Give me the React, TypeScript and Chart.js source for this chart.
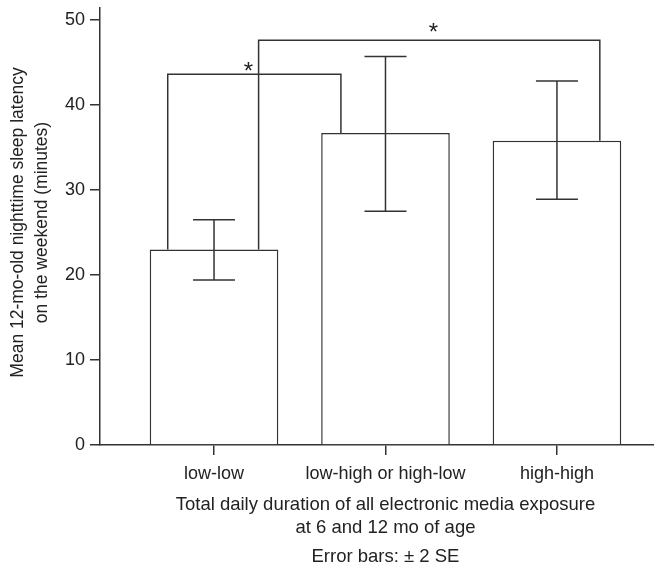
import React, { useEffect, useRef } from 'react';
import { Chart, registerables } from 'chart.js';

Chart.register(...registerables);

// ---- data ----
const categories = ['low-low', 'low-high or high-low', 'high-high'];
const categoryPositions = [1, 2, 3];
const meanLatency = [23.0, 36.7, 35.8];
const errorLow = [19.4, 27.5, 28.9];
const errorHigh = [26.5, 45.7, 42.8];
const yTicks = [0, 10, 20, 30, 40, 50];
const bracketFrom = [0, 0];
const bracketTo = [1, 2];
const bracketLevel = [43.6, 47.6];
const bracketMarks = ['*', '*'];
const yTitle = ['Mean 12-mo-old nighttime sleep latency', 'on the weekend (minutes)'];
const xTitle = ['Total daily duration of all electronic media exposure', 'at 6 and 12 mo of age'];
const note = 'Error bars: \u00b1 2 SE';

// ---- layout / style ----
const FONT = "'Liberation Sans', Arial, Helvetica, sans-serif";
const INK = '#333';
const TEXT = '#222';
const legFromOffset = [-0.27, 0.26];
const legToOffset = [-0.26, 0.25];
const markX = [1.2, 2.28];
const markAbove = [0.85, 1.45];

const overlay = {
  id: 'overlay',
  afterDatasetsDraw(chart: any) {
    const { ctx, scales } = chart;
    const xs = scales.x;
    const ys = scales.y;
    ctx.save();
    ctx.strokeStyle = INK;
    ctx.lineWidth = 1.5;
    // error bars
    categoryPositions.forEach((p, i) => {
      const x = xs.getPixelForValue(p);
      const y1 = ys.getPixelForValue(errorLow[i]);
      const y2 = ys.getPixelForValue(errorHigh[i]);
      ctx.beginPath();
      ctx.moveTo(x, y1);
      ctx.lineTo(x, y2);
      ctx.moveTo(x - 21, y1);
      ctx.lineTo(x + 21, y1);
      ctx.moveTo(x - 21, y2);
      ctx.lineTo(x + 21, y2);
      ctx.stroke();
    });
    // brackets
    bracketLevel.forEach((lvl, b) => {
      const a = bracketFrom[b];
      const c = bracketTo[b];
      const xa = xs.getPixelForValue(categoryPositions[a] + legFromOffset[b]);
      const xc = xs.getPixelForValue(categoryPositions[c] + legToOffset[b]);
      const yt = ys.getPixelForValue(lvl);
      ctx.beginPath();
      ctx.moveTo(xa, ys.getPixelForValue(meanLatency[a]));
      ctx.lineTo(xa, yt);
      ctx.lineTo(xc, yt);
      ctx.lineTo(xc, ys.getPixelForValue(meanLatency[c]));
      ctx.stroke();
      ctx.fillStyle = TEXT;
      ctx.font = `24px ${FONT}`;
      ctx.textAlign = 'center';
      ctx.textBaseline = 'middle';
      ctx.fillText(bracketMarks[b], xs.getPixelForValue(markX[b]), ys.getPixelForValue(lvl + markAbove[b]) + 5);
    });
    ctx.restore();
  },
  afterDraw(chart: any) {
    const { ctx, scales, chartArea } = chart;
    const cx = scales.x.getPixelForValue(categoryPositions[1]);
    ctx.save();
    ctx.fillStyle = TEXT;
    ctx.font = `18.5px ${FONT}`;
    ctx.textAlign = 'center';
    ctx.textBaseline = 'middle';
    ctx.fillText(xTitle[0], cx, chartArea.bottom + 60);
    ctx.fillText(xTitle[1], cx, chartArea.bottom + 83);
    ctx.fillText(note, cx, chartArea.bottom + 112);
    // y-axis title (two lines, rotated)
    ctx.font = `17.5px ${FONT}`;
    const cy = (chartArea.top + chartArea.bottom) / 2 - 4;
    ctx.translate(0, cy);
    ctx.rotate(-Math.PI / 2);
    ctx.fillText(yTitle[0], 0, 18);
    ctx.fillText(yTitle[1], 0, 42);
    ctx.restore();
  },
};

export default function App() {
  const ref = useRef<HTMLCanvasElement>(null);
  useEffect(() => {
    if (!ref.current) return;
    const chart = new Chart(ref.current, {
      type: 'bar',
      data: {
        datasets: [
          {
            data: categoryPositions.map((x, i) => ({ x, y: meanLatency[i] })),
            backgroundColor: '#ffffff',
            borderColor: INK,
            borderWidth: 1.5,
            barPercentage: 0.75,
            categoryPercentage: 1.0,
          },
        ],
      },
      options: {
        responsive: false,
        animation: false,
        devicePixelRatio: 1,
        layout: { padding: { top: 8, right: 0, left: 0, bottom: 0 } },
        plugins: { legend: { display: false }, tooltip: { enabled: false } },
        scales: {
          x: {
            type: 'linear',
            offset: false,
            min: 0.335,
            max: 3.566,
            afterBuildTicks: (s: any) => {
              s.ticks = categoryPositions.map((v) => ({ value: v }));
            },
            afterFit: (s: any) => {
              s.height = 121;
              s.paddingLeft = 0;
              s.paddingRight = 0;
            },
            ticks: {
              autoSkip: false,
              maxRotation: 0,
              padding: 8,
              color: TEXT,
              font: { family: FONT, size: 18 },
              callback: (v: any) => categories[Math.round(Number(v)) - 1],
            },
            grid: { offset: false, drawOnChartArea: false, drawTicks: true, tickLength: 10, color: INK, lineWidth: 1.5 },
            border: { display: true, color: INK, width: 1.5 },
          },
          y: {
            min: 0,
            max: 51.4,
            afterBuildTicks: (s: any) => {
              s.ticks = yTicks.map((v) => ({ value: v }));
            },
            afterFit: (s: any) => {
              s.width = 100;
              s.paddingTop = 0;
              s.paddingBottom = 0;
            },
            ticks: {
              padding: 5,
              color: TEXT,
              font: { family: FONT, size: 18 },
            },
            grid: { drawOnChartArea: false, drawTicks: true, tickLength: 10, color: INK, lineWidth: 1.5 },
            border: { display: true, color: INK, width: 1.5 },
          },
        },
      },
      plugins: [overlay],
    });
    return () => chart.destroy();
  }, []);
  return (
    <div style={{ position: 'absolute', left: 0, top: 0, width: 654, height: 566 }}>
      <canvas ref={ref} width={654} height={566} style={{ display: 'block', width: 654, height: 566 }} />
    </div>
  );
}
